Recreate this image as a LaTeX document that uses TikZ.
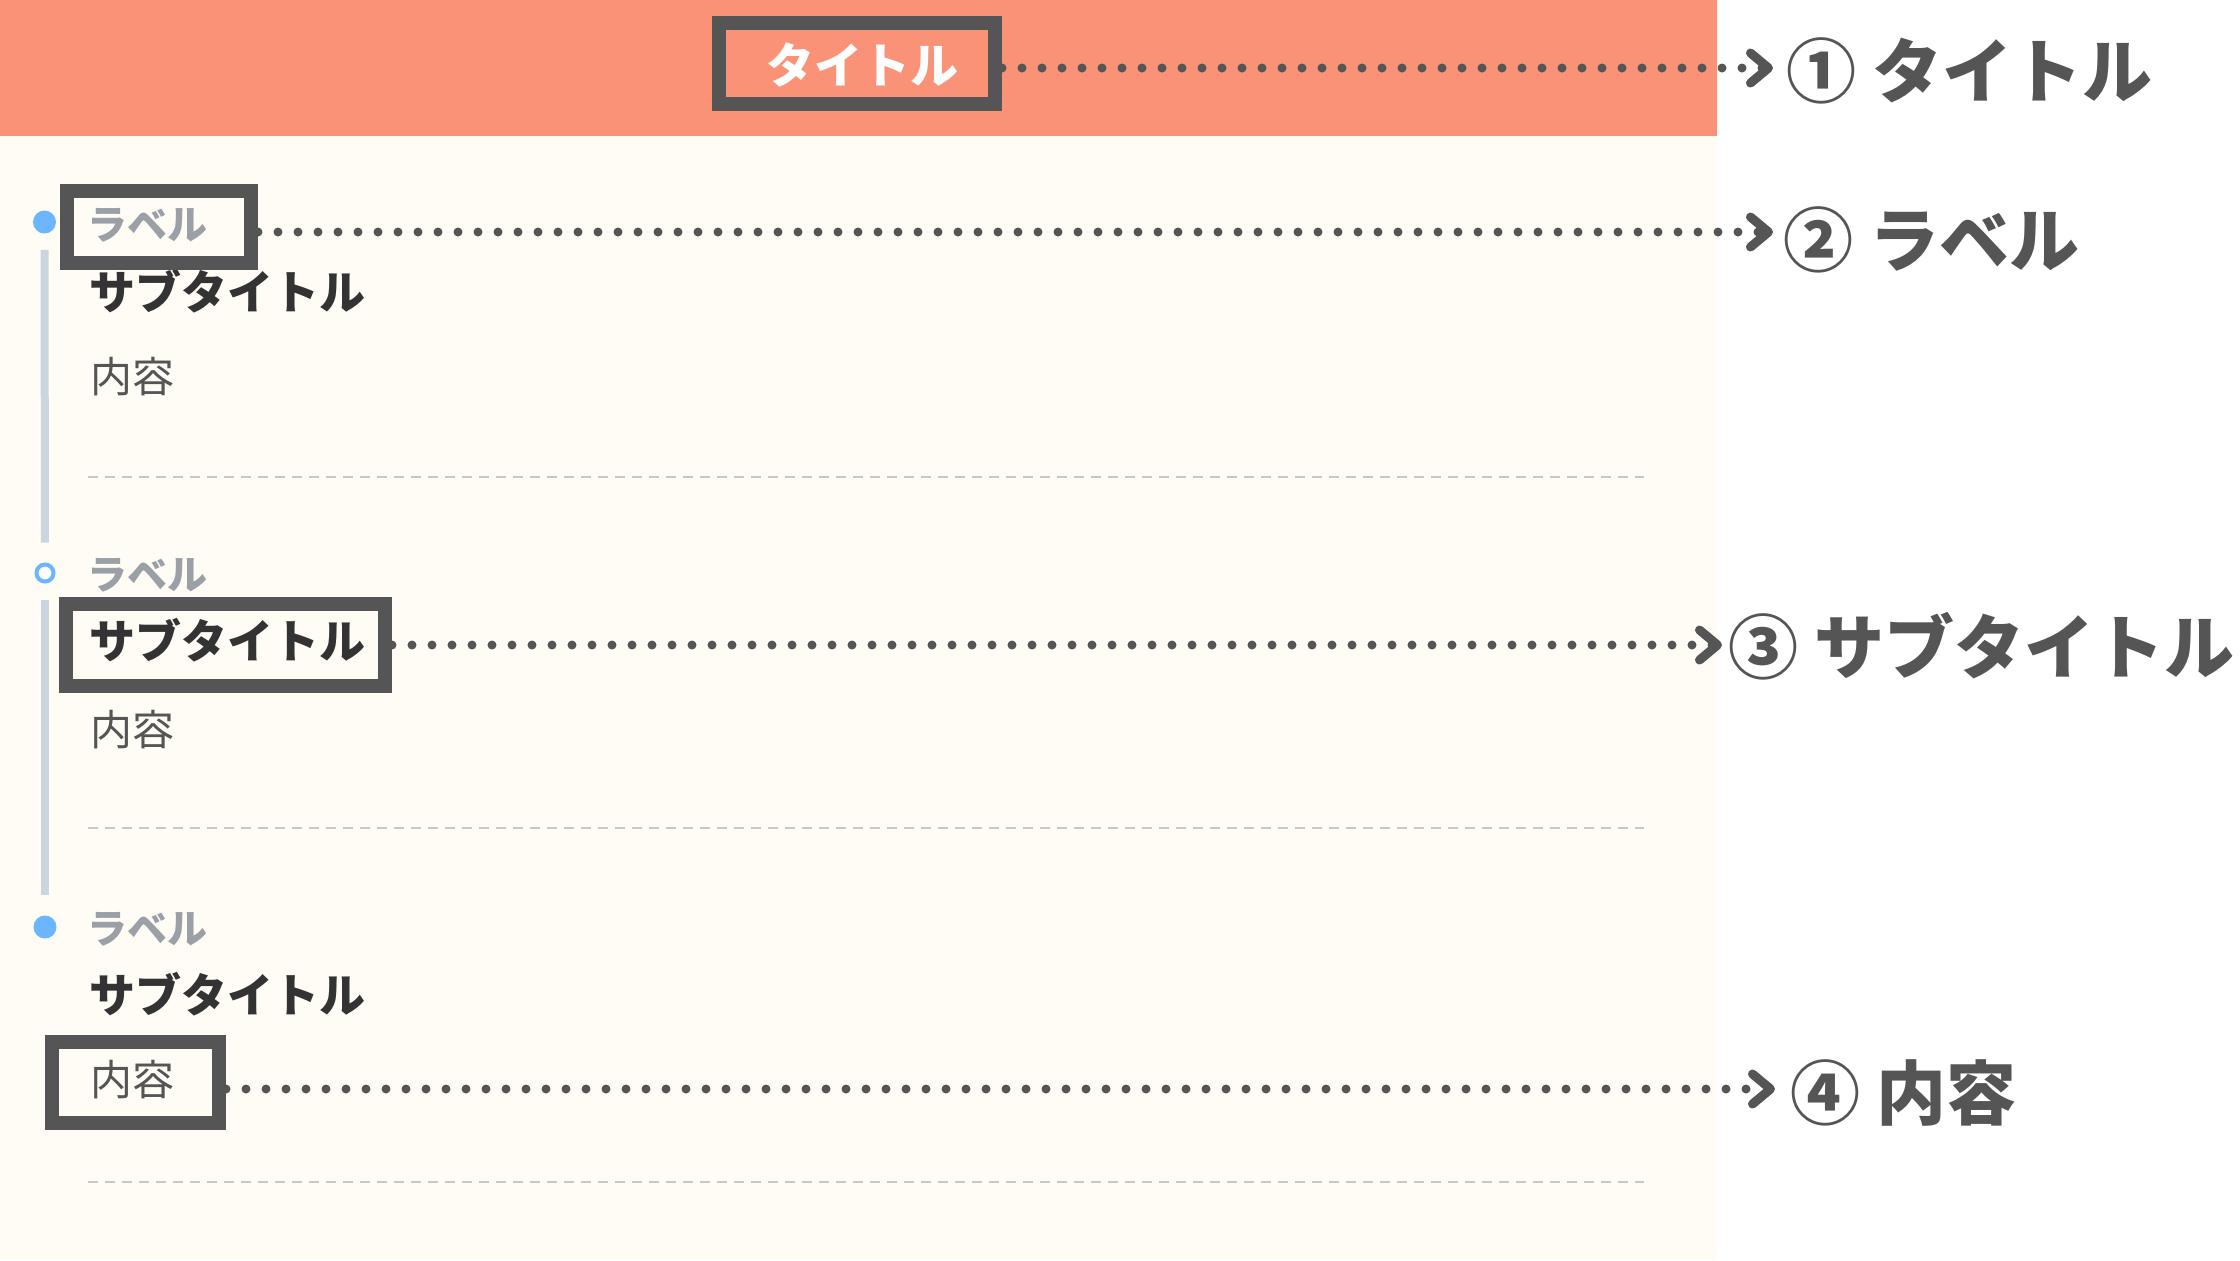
\documentclass[tikz,border=0pt]{standalone}
\usepackage{fontspec}
\setmainfont{Noto Sans CJK JP}
\usepackage{tikz}
\usetikzlibrary{arrows.meta,fit}

\definecolor{headsalmon}{HTML}{F99277}
\definecolor{creambg}{HTML}{FFFCF5}
\definecolor{framegray}{HTML}{555555}
\definecolor{labelgray}{HTML}{9AA0A6}
\definecolor{subblack}{HTML}{333333}
\definecolor{railblue}{HTML}{CBD5E0}
\definecolor{dotblue}{HTML}{6CB6FF}
\definecolor{sepgray}{HTML}{C8C8C8}

\tikzset{
	frame/.style={draw=framegray, line width=7pt, inner sep=0pt},
	callout/.style={draw=framegray, line width=4.5pt, line cap=round, dash pattern=on 0pt off 10pt,
		-{Straight Barb[length=9pt,width=15pt,round]}},
	lbltext/.style={anchor=west, inner sep=0pt, text=labelgray, font=\bfseries\fontsize{20}{24}\selectfont},
	subtext/.style={anchor=west, inner sep=0pt, text=subblack, font=\bfseries\fontsize{23}{27}\selectfont},
	context/.style={anchor=west, inner sep=0pt, text=framegray, font=\fontsize{21}{25}\selectfont},
	notetext/.style={anchor=west, inner sep=0pt, text=framegray, font=\bfseries\fontsize{35}{40}\selectfont},
	fulldot/.style={circle, fill=dotblue, inner sep=0pt, minimum size=11.5pt},
	ringdot/.style={circle, draw=dotblue, fill=white, line width=2pt, inner sep=0pt, minimum size=8.5pt},
	rail/.style={draw=railblue, line width=4pt, shorten <=8pt, shorten >=10pt},
	sepline/.style={draw=sepgray, line width=1pt, dash pattern=on 5pt off 3.5pt}
}

\begin{document}
\begin{tikzpicture}[x=0.5pt,y=0.5pt,yscale=-1,xscale=1]
	\useasboundingbox (0,0) rectangle (2240,1260);
	
	%Shape: Background
	\fill[white] (0,0) rectangle (2240,1260);
	\fill[creambg] (0,136) rectangle (1717,1260);
	\fill[headsalmon] (0,0) rectangle (1717,136);
	
	%Timeline dots and rails
	\node[fulldot] (dot1) at (44.5,222) {};
	\node[ringdot] (dot2) at (45,573) {};
	\node[fulldot] (dot3) at (45,927) {};
	\draw[rail] (dot1) -- (dot2);
	\draw[rail] (dot2) -- (dot3);
	
	% Text Node: header
	\node[anchor=west, inner sep=0pt, text=white, font=\bfseries\fontsize{24}{28}\selectfont] (title) at (766,65) {タイトル};
	
	% Text Node: first item
	\node[lbltext] (lbl1) at (87,225) {ラベル};
	\node[subtext] (sub1) at (89,291) {サブタイトル};
	\node[context] (con1) at (90,377) {内容};
	\draw[sepline] (88,477) -- (1644,477);
	
	% Text Node: second item
	\node[lbltext] (lbl2) at (87,575) {ラベル};
	\node[subtext] (sub2) at (89,640) {サブタイトル};
	\node[context] (con2) at (90,730) {内容};
	\draw[sepline] (88,828) -- (1644,828);
	
	% Text Node: third item
	\node[lbltext] (lbl3) at (87,929) {ラベル};
	\node[subtext] (sub3) at (89,994) {サブタイトル};
	\node[context] (con3) at (90,1080) {内容};
	\draw[sepline] (88,1182) -- (1644,1182);
	
	%Shape: Rectangle frames
	\node[frame, fit={(719,23) (995,104)}] (titleframe) {};
	\node[frame, fit={(67,191) (251,263)}] (lblframe) {};
	\node[frame, fit={(66,604) (385,686)}] (subframe) {};
	\node[frame, fit={(52,1042) (219,1123)}] (conframe) {};
	
	% Text Node: notes on the right
	\node[notetext] (note1) at (1786,71) {① タイトル};
	\node[notetext] (note2) at (1783,240) {② ラベル};
	\node[notetext] (note3) at (1728,646) {③ サブタイトル};
	\node[notetext] (note4) at (1790,1093) {④ 内容};
	
	%Straight Lines: dotted callouts
	\coordinate (tip1) at (1773,68);
	\coordinate (tip2) at (1773,232);
	\coordinate (tip3) at (1722,645);
	\coordinate (tip4) at (1775,1089);
	\draw[callout] (titleframe.east |- tip1) -- (tip1);
	\draw[callout] (lblframe.east |- tip2) -- (tip2);
	\draw[callout] (subframe.east |- tip3) -- (tip3);
	\draw[callout] (conframe.east |- tip4) -- (tip4);
	
\end{tikzpicture}
\end{document}
